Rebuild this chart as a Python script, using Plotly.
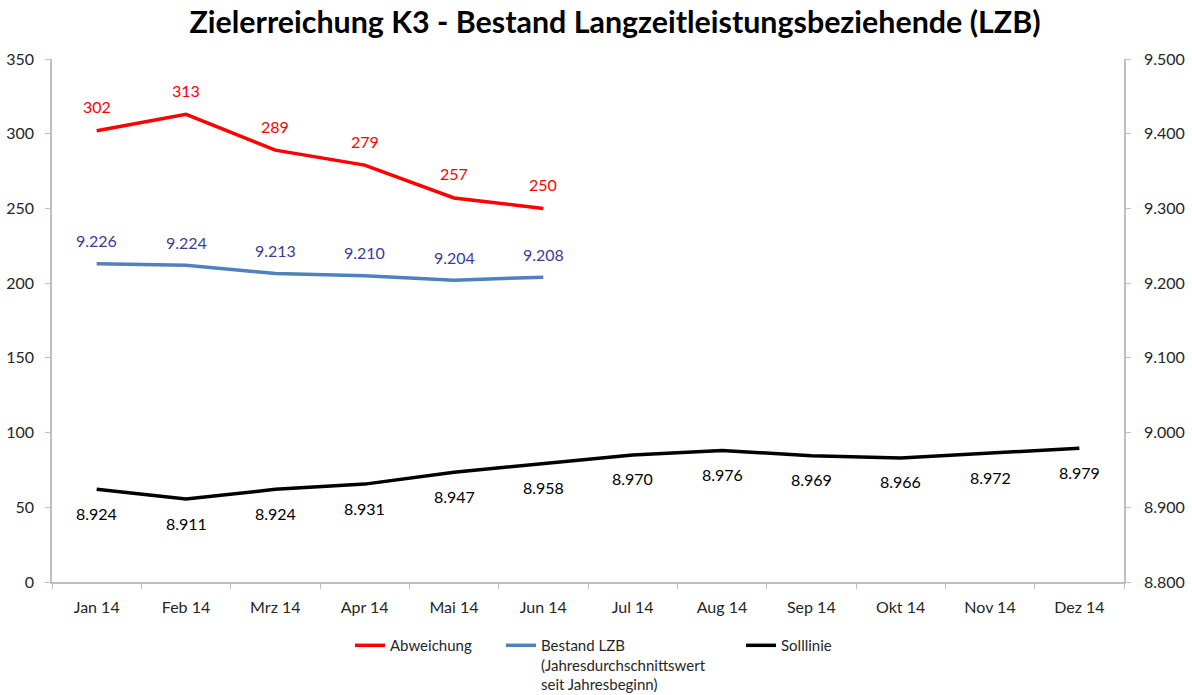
import plotly.graph_objects as go

monate = ["Jan 14", "Feb 14", "Mrz 14", "Apr 14", "Mai 14", "Jun 14",
          "Jul 14", "Aug 14", "Sep 14", "Okt 14", "Nov 14", "Dez 14"]
abweichung = [302, 313, 289, 279, 257, 250]
bestand_lzb = [9226, 9224, 9213, 9210, 9204, 9208]
solllinie = [8924, 8911, 8924, 8931, 8947, 8958, 8970, 8976, 8969, 8966, 8972, 8979]

schrift = "Lato"


def de_zahl(v):
    # deutsche Tausenderpunkte
    return f"{v:,}".replace(",", ".")


fig = go.Figure()
fig.add_trace(go.Scatter(
    x=monate[:len(abweichung)], y=abweichung, name="Abweichung", legend="legend",
    mode="lines", line=dict(color="#FF0000", width=3.5),
))
fig.add_trace(go.Scatter(
    x=monate[:len(bestand_lzb)], y=bestand_lzb, yaxis="y2", legend="legend2",
    name="Bestand LZB<br>(Jahresdurchschnittswert<br>seit Jahresbeginn)",
    mode="lines", line=dict(color="#4F81BD", width=3.5),
))
fig.add_trace(go.Scatter(
    x=monate, y=solllinie, yaxis="y2", name="Solllinie", legend="legend3",
    mode="lines", line=dict(color="#000000", width=3.5),
))

# Datenbeschriftungen
labels = []
for m, v in zip(monate, abweichung):
    labels.append(dict(x=m, y=v, yref="y", text=str(v), yshift=24,
                       font=dict(color="#FF0000")))
for m, v in zip(monate, bestand_lzb):
    labels.append(dict(x=m, y=v, yref="y2", text=de_zahl(v), yshift=23,
                       font=dict(color="#3B3B98")))
for m, v in zip(monate, solllinie):
    labels.append(dict(x=m, y=v, yref="y2", text=de_zahl(v), yshift=-24,
                       font=dict(color="#000000")))
for a in labels:
    a.update(xref="x", showarrow=False)
    a["font"].update(size=16, family=schrift)

achse = dict(showline=True, linecolor="#BFBFBF", linewidth=1.5, ticks="outside",
             tickcolor="#BFBFBF", ticklen=5, showgrid=False, zeroline=False,
             automargin=False)

leg = dict(xanchor="left", y=-0.09, yanchor="top", valign="top", font=dict(size=15))

fig.update_layout(
    width=1192, height=695,
    paper_bgcolor="white", plot_bgcolor="white",
    separators=",.",
    font=dict(family=schrift, size=16, color="#262626"),
    title=dict(text="<b>Zielerreichung K3 - Bestand Langzeitleistungsbeziehende (LZB)</b>",
               x=615 / 1192, xanchor="center", y=0.968, yanchor="middle",
               font=dict(size=30.4, color="#000000", family=schrift)),
    margin=dict(l=52, r=68, t=59, b=113, autoexpand=False),
    xaxis=dict(type="category", categoryorder="array", categoryarray=monate,
               range=[-0.5, 11.5], tickson="boundaries", ticklabelstandoff=10, **achse),
    yaxis=dict(range=[0, 350], dtick=50, ticklabelstandoff=8, **achse),
    yaxis2=dict(range=[8800, 9500], dtick=100, overlaying="y", side="right",
                tickformat=",.0f", ticklabelstandoff=10, **achse),
    annotations=labels,
    legend=dict(x=(350 - 52) / 1072, **leg),
    legend2=dict(x=(501 - 52) / 1072, **leg),
    legend3=dict(x=(741 - 52) / 1072, **leg),
    showlegend=True,
)

fig.write_html("out.html", config={"displayModeBar": False},
               post_script="document.body.style.margin='0';")
